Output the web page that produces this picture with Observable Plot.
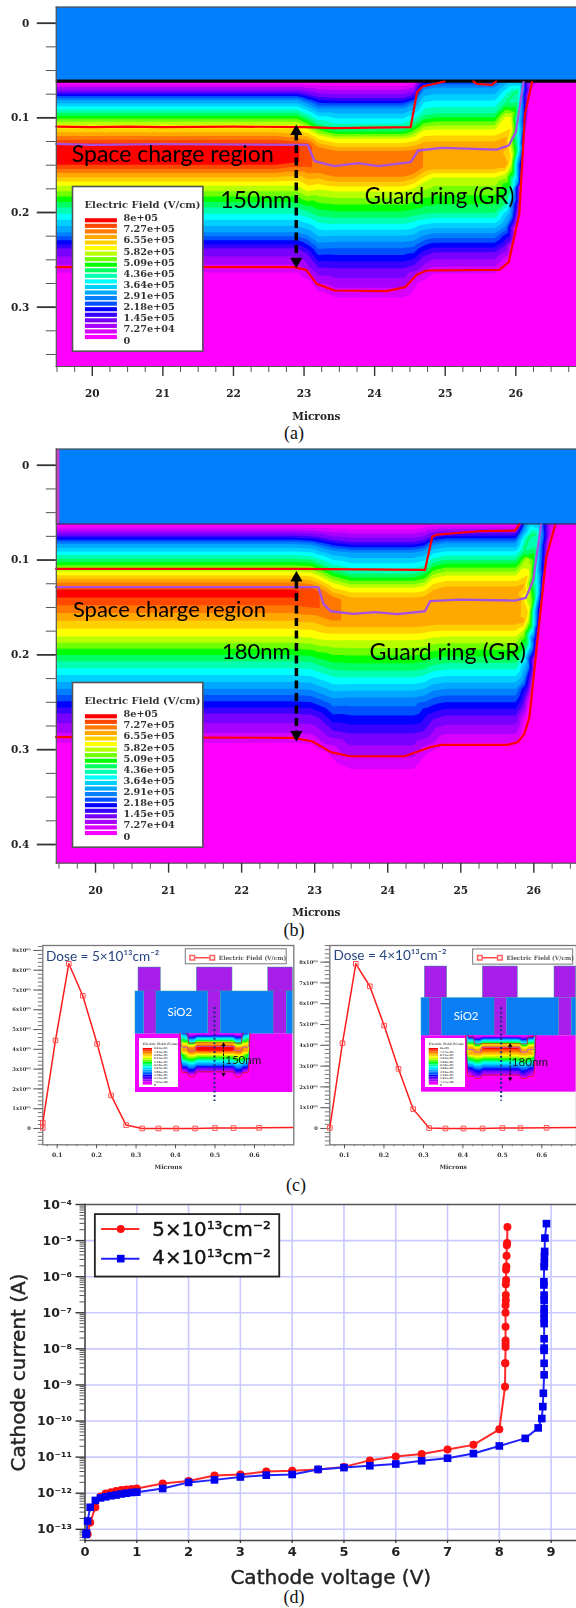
<!DOCTYPE html>
<html><head><meta charset="utf-8">
<script src="https://cdn.jsdelivr.net/npm/d3@7"></script>
<script src="https://cdn.jsdelivr.net/npm/@observablehq/plot@0.6"></script>
<style>
html,body{margin:0;padding:0;background:#fff}
#page{position:relative;width:576px;height:1608px;overflow:hidden;background:#fff}
#page svg{position:absolute;display:block}
.cap{position:absolute;width:60px;margin-left:-30px;text-align:center;font:18px "Liberation Serif",serif;color:#111}
</style></head><body><div id="page"></div>
<script>
// ---------- (a)/(b) field maps ----------
const fieldColors=["#ff00ff","#d800ff","#a800ff","#7800ff","#3800ff","#0000ff","#0050ff","#0080ff","#00a8ff","#00d0ff","#00ffff","#00ffb0","#00ff60","#00ff00","#70ff00","#b8ff00","#ffff00","#ffd000","#ffa800","#ff7800","#ff4800","#ff0000"];
const fieldThresholds=fieldColors.map((c,i)=>i*8/22);
const legendLabels=["8e+05","7.27e+05","6.55e+05","5.82e+05","5.09e+05","4.36e+05","3.64e+05","2.91e+05","2.18e+05","1.45e+05","7.27e+04","0"];
const legendValues=[8,7.27,6.55,5.82,5.09,4.36,3.64,2.91,2.18,1.45,0.727,0];
// station: [x µm, peak field (1e5 V/cm), depth in nm of E = 0,1.45,2.9,4.4,5.8,peak,peak,5.8,4.4,2.9,1.45,0]
const stationsA=[
[19.2,8,62,73,81,95,107,131,145,172,194,221,238,272],
[22.6,8,62,73,81,95,107,131,145,172,194,221,238,272],
[22.9,7.7,62,73,81,95,107,130,146,172,194,221,238,272],
[23.05,7.4,62,75,85,100,112,128,150,178,198,224,244,276],
[23.2,7.1,62,78,90,107,118,133,155,176,203,232,258,292],
[23.45,7,62,79,90,112,122,136,161,178,205,231,259,300],
[24.4,7,62,79,90,112,122,136,161,178,205,231,259,300],
[24.55,7,60,76,86,107,120,135,158,175,203,230,256,296],
[24.7,6.9,48,60,70,98,113,131,152,168,201,224,246,278],
[24.85,6.9,45,55,68,96,112,131,150,163,200,222,242,272],
[25.7,6.9,45,55,68,96,112,131,150,163,200,222,242,272],
[25.85,6.8,40,50,60,85,98,125,150,160,190,215,235,262],
[25.93,6.2,32,42,52,77,98,112,142,150,176,204,228,254],
[25.98,5.2,30,40,51,73,null,95,138,null,160,186,210,236],
[26.03,4.2,30,40,52,72,null,82,132,null,null,168,190,216],
[26.08,3,30,42,56,null,null,60,115,null,null,132,150,172],
[26.14,1.6,30,48,null,null,null,58,90,null,null,null,105,118],
[26.2,.7,40,null,null,null,null,58,70,null,null,null,null,78],
[26.27,0,null,null,null,null,null,null,null,null,null,null,null,null],
[27,0,null,null,null,null,null,null,null,null,null,null,null,null]];
const stationsB=[
[19.2,7.7,63,74,83,99,112,132,138,181,206,236,262,303],
[22.7,7.7,63,74,83,99,112,132,138,181,206,236,262,303],
[22.95,7.5,63,75,84,100,113,132,145,182,207,237,263,304],
[23.05,7.3,63,76,86,103,116,133,150,184,210,240,266,308],
[23.25,7,63,79,90,110,124,140,162,185,215,246,280,325],
[23.5,6.8,63,81,92,115,129,143,166,185,216,245,283,333],
[24.35,6.8,63,81,92,115,129,143,166,185,216,245,283,333],
[24.5,6.8,62,79,90,112,127,142,165,184,214,243,280,328],
[24.62,6.8,62,74,84,103,119,136,164,182,210,238,268,310],
[24.8,6.8,62,72,82,100,116,132,164,181,208,236,264,303],
[25.75,6.8,62,72,82,100,116,132,164,181,208,236,264,303],
[25.85,6.7,50,58,70,92,108,128,165,175,200,228,252,290],
[25.92,6.2,36,46,56,76,100,116,155,164,188,212,236,268],
[25.98,5.2,30,40,51,72,null,100,145,null,170,192,214,242],
[26.03,4.2,30,40,52,72,null,84,135,null,null,168,186,208],
[26.08,3.1,30,42,55,null,null,62,120,null,null,134,152,172],
[26.14,1.7,30,48,null,null,null,58,92,null,null,null,108,122],
[26.22,.7,40,null,null,null,null,60,72,null,null,null,null,85],
[26.32,0,null,null,null,null,null,null,null,null,null,null,null,null],
[27,0,null,null,null,null,null,null,null,null,null,null,null,null]];
const redTopA=[[19.49,.1092],[20,.1099],[20.5,.1092],[21,.1099],[22,.1092],[23.01,.1099],[23.43,.1109],[24.51,.1099],[24.6,.0729],[24.68,.0669],[24.99,.0616]];
const redPatchA=[[25.4,.0616],[25.45,.0641],[25.66,.0651],[25.72,.0616]];
const purpleA=[[19.49,.1275],[20,.1285],[21,.1278],[23.05,.1285],[23.15,.1458],[23.43,.1511],[23.77,.1479],[24.05,.1511],[24.51,.1468],[24.62,.1345],[24.95,.1317],[25.73,.1335],[25.9,.1292],[26.0,.1151],[26.11,.0623]];
const redBottomA=[[19.49,.2577],[22.85,.2577],[23.03,.2606],[23.18,.2754],[23.43,.2824],[24.17,.2831],[24.43,.2789],[24.6,.2655],[24.74,.2613],[25.77,.2606],[25.9,.2525],[26.05,.2014],[26.13,.0958],[26.23,.0623]];
const redTopB=[[19.46,.1093],[20.5,.1093],[21.5,.1093],[22.72,.1093],[24.51,.1104],[24.61,.0752],[24.68,.0731],[25.24,.0696],[25.74,.0689],[25.8,.0626]];
const purpleB=[[19.46,.1286],[23.05,.1286],[23.12,.1462],[23.22,.154],[23.53,.1568],[23.83,.155],[24.13,.1571],[24.51,.154],[24.58,.1434],[24.98,.1417],[25.74,.1427],[25.89,.1399],[25.99,.1216],[26.1,.0626]];
const redBottomB=[[19.46,.2868],[22.72,.2875],[22.97,.2914],[23.22,.3026],[23.48,.3069],[24.23,.3069],[24.58,.2974],[24.73,.2949],[25.64,.2949],[25.78,.2921],[25.87,.2833],[25.94,.2657],[26.04,.1919],[26.17,.097],[26.29,.0636]];
const majorTicksDepthA=[0,.1,.2,.3], minorTicksDepthA=[.025,.05,.075,.125,.15,.175,.225,.25,.275,.325,.35];
const majorTicksDepthB=[0,.1,.2,.3,.4], minorTicksDepthB=[.025,.05,.075,.125,.15,.175,.225,.25,.275,.325,.35,.375];
const majorTicksMicrons=[20,21,22,23,24,25,26], minorTicksMicrons=[19.5,19.75,20.25,20.5,20.75,21.25,21.5,21.75,22.25,22.5,22.75,23.25,23.5,23.75,24.25,24.5,24.75,25.25,25.5,25.75,26.25,26.5,26.75];

// ---------- (c) field profiles ----------
const profileDepthL=[.0637,.0637,.0958,.1296,.165,.2014,.2368,.2748,.3154,.3568,.4015,.4497,.5,.5468,.6118,.6997];
const profileFieldL=[.03,.3,4.45,8.33,6.71,4.28,1.67,.17,0,0,0,0,.02,.02,.03,.05];
const profileDepthR=[.0628,.0949,.1287,.1642,.2005,.2368,.274,.3145,.3559,.4015,.4497,.5003,.5459,.6118,.6878];
const profileFieldR=[.03,4.1,7.92,6.84,4.95,2.87,.93,.02,0,0,0,.02,.02,.03,.05];
const profileTicksL=[0,1,2,3,4,5,6,7,8,9], profileTicksR=[0,1,2,3,4,5,6,7,8];
const profileTickText=["0","1x10⁰⁵","2x10⁰⁵","3x10⁰⁵","4x10⁰⁵","5x10⁰⁵","6x10⁰⁵","7x10⁰⁵","8x10⁰⁵","9x10⁰⁵"];
const profileMicrons=[.1,.2,.3,.4,.5,.6];
const profileMinorX=[.075,.125,.15,.175,.225,.25,.275,.325,.35,.375,.425,.45,.475,.525,.55,.575,.625,.65,.675];
const smallLegendL=["8.42e+05","7.65e+05","6.89e+05","6.12e+05","5.36e+05","4.59e+05","3.83e+05","3.06e+05","2.30e+05","1.53e+05","7.65e+04","0"];

// ---------- (d) I-V ----------
const voltsRed=[8.156,8.15,8.145,8.14,8.135,8.13,8.13,8.125,8.125,8.125,8.12,8.12,8.12,8.12,8.12,8.12,8.115,8.115,8.11,8,7.5,7,6.5,6,5.5,5,4.5,4,3.5,3,2.5,2,1.5,1,.9,.8,.7,.6,.5,.4,.3,.2,.1,.05];
const logAmpsRed=[-4.62,-5.07,-5.13,-5.42,-5.72,-5.81,-6.09,-6.21,-6.51,-6.65,-6.79,-7,-7.39,-7.77,-7.86,-7.95,-8.4,-8.4,-9.05,-10.23,-10.66,-10.79,-10.91,-10.98,-11.09,-11.27,-11.34,-11.38,-11.4,-11.48,-11.51,-11.66,-11.73,-11.87,-11.88,-11.9,-11.91,-11.94,-11.97,-12.01,-12.09,-12.39,-12.81,-13.14];
const voltsBlue=[8.91,8.88,8.875,8.87,8.87,8.865,8.86,8.86,8.865,8.865,8.865,8.865,8.865,8.865,8.865,8.865,8.865,8.865,8.865,8.85,8.84,8.82,8.75,8.5,8,7.5,7,6.5,6,5.5,5,4.5,4,3.5,3,2.5,2,1.5,1,.9,.8,.7,.6,.5,.4,.3,.2,.1,.05,.03,.02];
const logAmpsBlue=[-4.53,-4.93,-5.3,-5.44,-5.62,-5.72,-6.14,-6.23,-6.51,-6.65,-6.88,-7.02,-7.16,-7.3,-7.72,-7.98,-8.04,-8.4,-8.72,-9.23,-9.6,-9.93,-10.19,-10.48,-10.69,-10.9,-11.03,-11.1,-11.19,-11.24,-11.29,-11.34,-11.48,-11.5,-11.55,-11.63,-11.7,-11.87,-11.97,-11.98,-12,-12.02,-12.05,-12.07,-12.1,-12.13,-12.2,-12.39,-12.77,-13.1,-13.14];
const voltTicks=[0,1,2,3,4,5,6,7,8,9];
const decadeTicks=[1e-13,1e-12,1e-11,1e-10,1e-9,1e-8,1e-7,1e-6,1e-5,1e-4];
const decadeText=["10⁻¹³","10⁻¹²","10⁻¹¹","10⁻¹⁰","10⁻⁹","10⁻⁸","10⁻⁷","10⁻⁶","10⁻⁵","10⁻⁴"];

// ---------- helpers ----------
const page=document.getElementById("page");
const serif='"DejaVu Serif",serif', sans='"DejaVu Sans",sans-serif', body='Lato,sans-serif';
function place(node,x,y,blur=.55){node.style.left=x+"px";node.style.top=y+"px";node.style.maxWidth="none";if(blur)node.style.filter=`blur(${blur}px)`;page.append(node);return node;}
function caption(t,x,y){const d=document.createElement("div");d.className="cap";d.textContent=t;d.style.left=x+"px";d.style.top=y+"px";page.append(d);}
const base={background:"none",overflow:"visible"};
const pairs=a=>a.map(([x,y])=>({x,y}));
function samples(rows,mirror){
  const out=[];
  for(const [x,pk,...ys] of rows){
    const lv=[0,1.45,2.9,4.4,5.8,pk,pk,5.8,4.4,2.9,1.45,0];
    const pts=[{y:-.03,e:0},{y:.45,e:0}];
    ys.forEach((y,i)=>{if(y!=null)pts.push({y:y/1000,e:lv[i]})});
    for(const p of pts){
      if(mirror){const d=x-19.2;out.push({x:d,y:p.y,e:p.e});if(d>0)out.push({x:-d,y:p.y,e:p.e});}
      else out.push({x,y:p.y,e:p.e});
    }
  }
  return out;
}
const contourOf=(rows,mirror)=>Plot.contour(samples(rows,mirror),{x:"x",y:"y",fill:"e",interpolate:"barycentric",thresholds:fieldThresholds,pixelSize:1});
const colorScale={type:"ordinal",domain:fieldThresholds,range:fieldColors};

function fieldPanel(c){
  const [x0,x1]=c.xDomain;
  return Plot.plot({width:576,height:c.height,marginLeft:55.8,marginRight:0,marginTop:c.top,marginBottom:c.bottom,style:base,
    x:{domain:c.xDomain},y:{domain:c.yDomain},color:colorScale,
    marks:[
      contourOf(c.rows),
      Plot.rect([{}],{x1:c.oxideLeft,x2:x1,y1:c.yDomain[1],y2:c.oxideY,fill:"#0080ff"}),
      c.oxideLeft>x0?Plot.rect([{}],{x1:x0,x2:c.oxideLeft,y1:c.yDomain[1],y2:c.oxideY,fill:"#c83cc8"}):null,
      Plot.ruleY([c.oxideY],{stroke:c.oxideLine,strokeWidth:c.oxideWidth}),
      Plot.line(pairs(c.redBottom),{x:"x",y:"y",stroke:"#ff0000",strokeWidth:2.2}),
      Plot.line(pairs(c.purple),{x:"x",y:"y",stroke:"#a850e0",strokeWidth:2.3}),
      Plot.line(pairs(c.redTop),{x:"x",y:"y",stroke:"#ff0000",strokeWidth:2.2}),
      c.redPatch?Plot.line(pairs(c.redPatch),{x:"x",y:"y",stroke:"#ff0000",strokeWidth:2.2}):null,
      Plot.ruleX([c.arrowX],{y1:c.arrowY[0],y2:c.arrowY[1],stroke:"#000",strokeWidth:3.5,strokeDasharray:"8,4.5"}),
      Plot.dot([c.arrowHeadTop],{x:()=>c.arrowX,y:d=>d,symbol:"triangle",r:4.5,fill:"#000"}),
      Plot.dot([c.arrowHeadBottom],{x:()=>c.arrowX,y:d=>d,symbol:"triangle",r:4.5,fill:"#000",rotate:180}),
      Plot.text(["Space charge region"],{x:c.space[0],y:c.space[1],textAnchor:"start",fontFamily:body,fontSize:c.spaceSize,fill:"#000"}),
      Plot.text([c.nm],{x:c.nmPos[0],y:c.nmPos[1],textAnchor:"end",fontFamily:body,fontSize:c.nmSize,fill:"#000"}),
      Plot.text(["Guard ring (GR)"],{x:c.guard[0],y:c.guard[1],textAnchor:"start",fontFamily:body,fontSize:c.guardSize,fill:"#000"}),
      Plot.frame({anchor:"top",stroke:"#555",strokeWidth:1.2}),
      Plot.frame({anchor:"left",stroke:"#555",strokeWidth:1.2}),
      Plot.frame({anchor:"bottom",stroke:"#555",strokeWidth:1.2}),
      Plot.axisY({ticks:c.majorY,tickSize:19,tickPadding:8,strokeWidth:1.8,stroke:"#333",tickFormat:d=>d===0?"0":String(d),fontFamily:serif,fontWeight:"bold",fontSize:10.5,fill:"#222",label:null}),
      Plot.axisY({ticks:c.minorY,tickSize:10,strokeWidth:1,stroke:"#555",tickFormat:()=>"",label:null}),
      Plot.axisX({ticks:majorTicksMicrons,tickSize:10,tickPadding:13,strokeWidth:1.4,stroke:"#333",tickFormat:d=>String(d),fontFamily:serif,fontWeight:"bold",fontSize:10.5,fill:"#222",label:"Microns",labelAnchor:"center",labelArrow:false,labelOffset:c.labelOffset}),
      Plot.axisX({ticks:minorTicksMicrons,tickSize:6,strokeWidth:1,stroke:"#555",tickFormat:()=>"",label:null})
    ]});
}
function fieldLegend(){
  const strips=fieldThresholds.map((t,i)=>({t,c:fieldColors[i]}));
  return Plot.plot({width:130.4,height:164.7,margin:0,style:{...base,background:"#fff"},
    x:{axis:null,domain:[0,130.4],range:[0,130.4]},y:{axis:null,domain:[0,8],range:[154,31.7]},
    marks:[
      Plot.rect(strips,{x1:()=>12.9,x2:()=>44.9,y1:d=>d.t+.06,y2:d=>d.t+.33,fill:"c"}),
      Plot.text(legendLabels,{x:()=>51,y:(d,i)=>legendValues[i],textAnchor:"start",fontFamily:serif,fontWeight:"bold",fontSize:9.7,fill:"#333"}),
      Plot.text(["Electric Field (V/cm)"],{x:()=>12,y:()=>8+.9,textAnchor:"start",fontFamily:serif,fontWeight:"bold",fontSize:10,fill:"#333",clip:false}),
      Plot.frame({stroke:"#555",strokeWidth:1.6})
    ]});
}

// ---------- (a) ----------
place(fieldPanel({height:425,top:6.7,bottom:59,xDomain:[19.49,26.86],yDomain:[.3627,-.0169],rows:stationsA,
  oxideLeft:19.49,oxideY:.0613,oxideLine:"#000",oxideWidth:3.2,redTop:redTopA,redPatch:redPatchA,purple:purpleA,redBottom:redBottomA,
  arrowX:22.89,arrowY:[.116,.246],arrowHeadTop:.1145,arrowHeadBottom:.2515,
  space:[19.71,.139],spaceSize:23,nm:"150nm",nmPos:[22.83,.1873],nmSize:23,guard:[23.86,.1831],guardSize:22.2,
  majorY:majorTicksDepthA,minorY:minorTicksDepthA,labelOffset:53}),0,0);
place(fieldLegend(),71.6,186);
caption("(a)",294,423);

// ---------- (b) ----------
place(fieldPanel({height:480,top:8.7,bottom:57.3,xDomain:[19.463,26.584],yDomain:[.4197,-.0169],rows:stationsB,
  oxideLeft:19.51,oxideY:.0619,oxideLine:"#1a3f66",oxideWidth:1.3,redTop:redTopB,purple:purpleB,redBottom:redBottomB,
  arrowX:22.75,arrowY:[.122,.282],arrowHeadTop:.119,arrowHeadBottom:.284,
  space:[19.69,.1525],spaceSize:22,nm:"180nm",nmPos:[22.67,.1972],nmSize:22,guard:[23.75,.1972],guardSize:23.2,
  majorY:majorTicksDepthB,minorY:minorTicksDepthB,labelOffset:53}),0,440);
place(fieldLegend(),71.6,682.3);
caption("(b)",294,920);

// ---------- (c) ----------
function profilePanel(c){
  const data=c.depth.map((x,i)=>({x,y:c.field[i]}));
  return Plot.plot({width:c.width,height:235,marginLeft:c.left,marginRight:c.right,marginTop:5,marginBottom:30.7,style:base,
    x:{domain:c.xDomain},y:{domain:c.yDomain},
    marks:[
      Plot.frame({stroke:"#777",strokeWidth:1.3}),
      Plot.axisY({ticks:c.ticks,tickSize:9,tickPadding:3,stroke:"#555",tickFormat:(d)=>profileTickText[d],fontFamily:serif,fontWeight:"bold",fontSize:5.2,fill:"#333",label:null}),
      Plot.axisY({ticks:d3.range(c.yDomain[0]<-.7?-.8:-.6,c.yDomain[1],.2),tickSize:4.5,stroke:"#777",tickFormat:()=>"",label:null}),
      Plot.axisX({ticks:profileMicrons,tickSize:4,tickPadding:4,stroke:"#555",tickFormat:d=>String(d),fontFamily:serif,fontWeight:"bold",fontSize:6,fill:"#333",label:"Microns",labelAnchor:"center",labelArrow:false,labelOffset:24}),
      Plot.axisX({ticks:profileMinorX,tickSize:2,stroke:"#777",tickFormat:()=>"",label:null}),
      Plot.line(data,{x:"x",y:"y",stroke:"#ff1c1c",strokeWidth:1.5,clip:true}),
      Plot.dot(data.filter(d=>d.x<=.62),{x:"x",y:"y",symbol:"square",r:2.6,stroke:"#ff5050",strokeWidth:1,fill:"none",clip:false}),
      Plot.rect([{}],{x1:c.box[0],x2:c.box[1],y1:c.box[2],y2:c.box[3],fill:"#fff",stroke:"#777",strokeWidth:1}),
      Plot.ruleY([c.boxLine[2]],{x1:c.boxLine[0],x2:c.boxLine[1],stroke:"#ff3030",strokeWidth:1.3}),
      Plot.dot([c.boxLine[0],c.boxLine[1]],{x:d=>d,y:()=>c.boxLine[2],symbol:"square",r:2.6,stroke:"#ff6060",fill:"#fff"}),
      Plot.text(["Electric Field (V/cm)"],{x:c.boxText,y:c.boxLine[2],textAnchor:"start",fontFamily:serif,fontWeight:"bold",fontSize:5.8,fill:"#555"}),
      Plot.text([c.dose],{x:c.doseX,y:c.doseY,textAnchor:"start",fontFamily:body,fontSize:13.6,fill:"#27457f"})
    ]});
}
place(profilePanel({width:294,left:42.3,right:.7,xDomain:[.0637,.6997],yDomain:[-.826,9.25],depth:profileDepthL,field:profileFieldL,ticks:profileTicksL,
  box:[.426,.6817,9.06,8.3],boxLine:[.4424,.4931,8.63],boxText:.5096,dose:"Dose = 5×10¹³cm⁻²",doseX:.072,doseY:8.7}),0,940);
place(profilePanel({width:282,left:35.3,right:0,xDomain:[.0628,.6878],yDomain:[-.785,8.8],depth:profileDepthR,field:profileFieldR,ticks:profileTicksR,
  box:[.426,.6794,8.61,7.88],boxLine:[.4429,.4936,8.21],boxText:.5105,dose:"Dose = 4×10¹³cm⁻²",doseX:.072,doseY:8.3}),294,940);

// schematic insets, in a drawing unit of its own
const metalL=[[413,480],[588,695],[802,876]], oxideL=[[404,430],[467,622],[660,818],[858,876]], neckL=[[430,467],[622,660],[818,858]];
const metalR=[[416,483],[590,695],[805,870]], oxideR=[[406,430],[468,625],[663,818],[857,870]], neckR=[[430,468],[625,663],[818,857]];
function inset(c){
  const w=(c.xDomain[1]-c.xDomain[0])/3, top=c.metalY, h=(520-top)/3;
  const px=c.x0+(c.xDomain[0])/3, py=930+top/3;
  const scales={x:{axis:null,domain:c.xDomain,range:[0,w]},y:{axis:null,domain:[top,520],range:[0,h]}};
  const opts={width:w,height:h,margin:0,style:base,...scales};
  const blocks=(a,y1,y2,fill,stroke)=>Plot.rect(a,{x1:d=>d[0],x2:d=>d[1],y1:()=>y1,y2:()=>y2,fill,stroke,strokeWidth:.5});
  place(Plot.plot({...opts,marks:[
    blocks(c.metal,top,c.oxideY,"#a61ee8","#3a9aa0"),
    blocks(c.neck,c.oxideY,c.subY,"#a61ee8"),
    blocks(c.oxide,c.oxideY,c.subY,"#0a7ff5","#2aa0a8"),
    Plot.rect([{}],{x1:c.xDomain[0],x2:c.xDomain[1],y1:c.subY,y2:485,fill:"#f000ff"}),
    Plot.text(["SiO2"],{x:c.sio[0],y:c.sio[1],textAnchor:"middle",fontFamily:body,fontSize:11.5,fill:"#fff"})
  ]}),px,py);
  // miniature field: same station data, mirrored about the device centre
  const fw=(c.fieldX[1]-c.fieldX[0])/3, fh=(c.fieldY[1]-c.subY)/3;
  const mini=[c.redTop,c.purple,c.redBottom].flatMap(l=>[pairs(l).map(d=>({x:d.x-19.2,y:d.y})),pairs(l).map(d=>({x:19.2-d.x,y:d.y}))]);
  place(Plot.plot({width:fw,height:fh,margin:0,style:base,color:colorScale,x:{axis:null,domain:[-7.1,7.1]},y:{axis:null,domain:[c.fieldDepth,.0623]},
    marks:[contourOf(c.rows,true),...mini.map((l,i)=>Plot.line(l,{x:"x",y:"y",stroke:(i>>1)==1?"#a850e0":"#e01010",strokeWidth:.8}))]}),
    c.x0+c.fieldX[0]/3,930+c.subY/3);
  const mw=(c.box[1]-c.box[0])/3, mh=(c.box[3]-c.box[2])/3;
  const strips=fieldThresholds.map((t,i)=>({t,c:fieldColors[i]}));
  place(Plot.plot({width:mw,height:mh,margin:0,style:{...base,background:"#fff"},x:{axis:null,domain:[0,mw],range:[0,mw]},y:{axis:null,domain:[0,8],range:[mh-3,10]},
    marks:[
      Plot.rect(strips,{x1:()=>3.7,x2:()=>13,y1:"t",y2:d=>d.t+.37,fill:"c"}),
      Plot.text(c.small,{x:()=>14.4,y:(d,i)=>legendValues[i],textAnchor:"start",fontFamily:serif,fontWeight:"bold",fontSize:2.6,fill:"#444"}),
      Plot.text(["Electric Field (V/cm)"],{x:()=>3.6,y:()=>9,textAnchor:"start",fontFamily:serif,fontWeight:"bold",fontSize:3,fill:"#444"})
    ]}),c.x0+c.box[0]/3,930+c.box[2]/3);
  place(Plot.plot({...opts,marks:[
    Plot.ruleX([c.dotX],{y1:c.dotY[0],y2:c.dotY[1],stroke:"#1a2f80",strokeWidth:2,strokeDasharray:"2,2.4"}),
    Plot.ruleX([c.arrow[0]],{y1:c.arrow[1]+5,y2:c.arrow[2]-5,stroke:"#000",strokeWidth:1,strokeDasharray:"2.5,1.2"}),
    Plot.dot([c.arrow[1]],{x:()=>c.arrow[0],y:d=>d,symbol:"triangle",r:1.6,fill:"#000"}),
    Plot.dot([c.arrow[2]],{x:()=>c.arrow[0],y:d=>d,symbol:"triangle",r:1.6,fill:"#000",rotate:180}),
    Plot.text([c.nm],{x:c.arrow[0]+5,y:c.nmY,textAnchor:"start",fontFamily:body,fontSize:11.6,fill:"#1a1a1a"})
  ]}),px,py);
}
inset({x0:0,xDomain:[404,876],metalY:110,oxideY:182,subY:310,metal:metalL,oxide:oxideL,neck:neckL,sio:[537,245],
  fieldX:[537,750],fieldY:[0,450],fieldDepth:.3003,rows:stationsA,redTop:redTopA,purple:purpleA,redBottom:redBottomA,
  box:[416,533,323,472],small:smallLegendL,dotX:641,dotY:[230,512],arrow:[668,342,430],nm:"150nm",nmY:388});
inset({x0:286,xDomain:[406,870],metalY:108,oxideY:203,subY:316,metal:metalR,oxide:oxideR,neck:neckR,sio:[540,257],
  fieldX:[538,750],fieldY:[0,452],fieldDepth:.32,rows:stationsB,redTop:redTopB,purple:purpleB,redBottom:redBottomB,
  box:[418,537,323,472],small:legendLabels,dotX:645,dotY:[232,512],arrow:[672,345,445],nm:"180nm",nmY:395});
caption("(c)",296,1175);

// ---------- (d) ----------
const ivRed=voltsRed.map((x,i)=>({x,y:10**logAmpsRed[i]}));
const ivBlue=voltsBlue.map((x,i)=>({x,y:10**logAmpsBlue[i]}));
const minorCurrent=decadeTicks.slice(0,-1).flatMap(d=>[2,3,4,5,6,7,8,9].map(m=>m*d)).concat([5e-14,6e-14,7e-14,8e-14,9e-14]);
const heavy={stroke:"#222",strokeWidth:.4};
place(Plot.plot({width:576,height:372,marginLeft:84.5,marginRight:0,marginTop:4,marginBottom:32,style:base,
  x:{domain:[0,9.49]},y:{type:"log",domain:[4.9e-14,1e-4]},
  marks:[
    Plot.ruleX(voltTicks.slice(1),{stroke:"#c9c9ff",strokeWidth:1.6}),
    Plot.ruleY(decadeTicks.slice(0,-1),{stroke:"#c9c9ff",strokeWidth:1.6}),
    Plot.frame({anchor:"top",stroke:"#555",strokeWidth:1.6}),
    Plot.frame({anchor:"left",stroke:"#444",strokeWidth:1.6}),
    Plot.frame({anchor:"bottom",stroke:"#444",strokeWidth:1.6}),
    Plot.axisY({ticks:decadeTicks,tickSize:9,tickPadding:4,stroke:"#333",strokeWidth:1.4,tickFormat:d=>decadeText[decadeTicks.indexOf(d)],fontFamily:sans,fontWeight:"bold",fontSize:12.5,fill:"#222",label:null}),
    Plot.axisY({ticks:minorCurrent,tickSize:5,stroke:"#555",tickFormat:()=>"",label:null}),
    Plot.axisX({ticks:voltTicks,tickSize:3,tickPadding:3,stroke:"#333",strokeWidth:1.3,tickFormat:d=>String(d),fontFamily:sans,fontWeight:"bold",fontSize:13,fill:"#222",label:null}),
    Plot.text(["Cathode voltage (V)"],{frameAnchor:"bottom",dy:37,lineAnchor:"middle",fontFamily:sans,fontSize:20,fill:"#222",...heavy}),
    Plot.text(["Cathode current (A)"],{frameAnchor:"left",dx:-66.5,rotate:-90,textAnchor:"middle",lineAnchor:"middle",fontFamily:sans,fontSize:20,fill:"#222",...heavy}),
    Plot.line(ivRed,{x:"x",y:"y",stroke:"#ff2a2a",strokeWidth:2}),
    Plot.dot(ivRed,{x:"x",y:"y",r:4,fill:"#ff1010"}),
    Plot.line(ivBlue,{x:"x",y:"y",stroke:"#2222ff",strokeWidth:2}),
    Plot.dot(ivBlue,{x:"x",y:"y",symbol:"square",r:4.3,fill:"#0000ee"}),
    Plot.rect([{}],{x1:.2,x2:3.76,y1:10**-4.28,y2:10**-6.01,fill:"#fff",stroke:"#222",strokeWidth:1.8}),
    Plot.ruleY([10**-4.68],{x1:.32,x2:1.06,stroke:"#ff2a2a",strokeWidth:2}),
    Plot.dot([.69],{x:d=>d,y:()=>10**-4.68,r:4,fill:"#ff1010"}),
    Plot.ruleY([10**-5.5],{x1:.32,x2:1.06,stroke:"#2222ff",strokeWidth:2}),
    Plot.dot([.69],{x:d=>d,y:()=>10**-5.5,symbol:"square",r:4.3,fill:"#0000ee"}),
    Plot.text(["5×10¹³cm⁻²"],{x:1.3,y:10**-4.7,textAnchor:"start",fontFamily:sans,fontSize:19.8,fill:"#111",...heavy}),
    Plot.text(["4×10¹³cm⁻²"],{x:1.3,y:10**-5.48,textAnchor:"start",fontFamily:sans,fontSize:19.8,fill:"#111",...heavy})
  ]}),0,1200,.75);
caption("(d)",294,1587);
</script></body></html>
